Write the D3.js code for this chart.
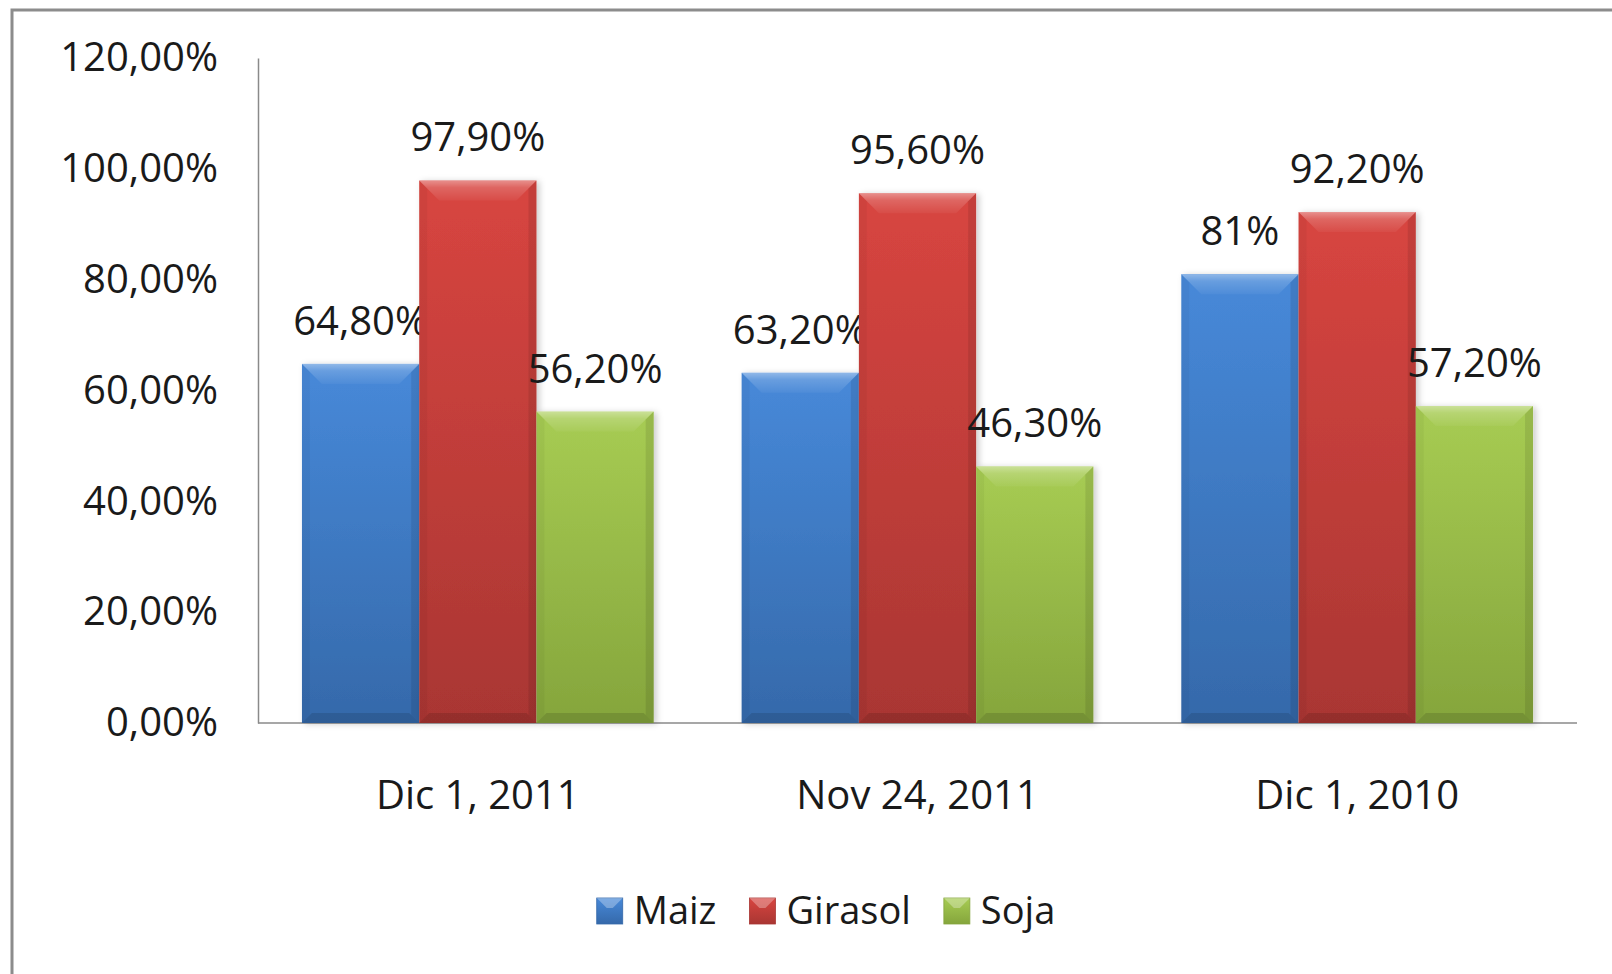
<!DOCTYPE html>
<html>
<head>
<meta charset="utf-8">
<script src="https://cdn.jsdelivr.net/npm/d3@7"></script>
<style>
  body { margin: 0; background: #fff; }
  text { font-family: "Open Sans", "Noto Sans", sans-serif; fill: #1a1a1a; }
</style>
</head>
<body>
<div id="container"></div>
<script>
const width = 1612;
const height = 974;

// data
const categories = ["Dic 1, 2011", "Nov 24, 2011", "Dic 1, 2010"];
const seriesNames = ["Maiz", "Girasol", "Soja"];
const maiz = [0.648, 0.632, 0.81];
const girasol = [0.979, 0.956, 0.922];
const soja = [0.562, 0.463, 0.572];
const labelTexts = [
  ["64,80%", "63,20%", "81%"],
  ["97,90%", "95,60%", "92,20%"],
  ["56,20%", "46,30%", "57,20%"],
];
const yTicks = [0, 0.2, 0.4, 0.6, 0.8, 1.0, 1.2];

const colours = [
  { top: "#4789d9", bottom: "#3569aa" },
  { top: "#d84540", bottom: "#a93633" },
  { top: "#a7cc53", bottom: "#85a53c" },
];

const plot = { left: 258, right: 1577, top: 58, bottom: 723 };

const svg = d3
  .select("#container")
  .append("svg")
  .attr("width", width)
  .attr("height", height);

const defs = svg.append("defs");

colours.forEach((c, i) => {
  const g = defs
    .append("linearGradient")
    .attr("id", "fill" + i)
    .attr("x1", 0).attr("y1", 0).attr("x2", 0).attr("y2", 1);
  g.append("stop").attr("offset", "0%").attr("stop-color", c.top);
  g.append("stop").attr("offset", "100%").attr("stop-color", c.bottom);
});

const topBevel = defs
  .append("linearGradient")
  .attr("id", "topBevel")
  .attr("x1", 0).attr("y1", 0).attr("x2", 0).attr("y2", 1);
topBevel.append("stop").attr("offset", "0%").attr("stop-color", "#fff").attr("stop-opacity", 0.4);
topBevel.append("stop").attr("offset", "35%").attr("stop-color", "#fff").attr("stop-opacity", 0.18);
topBevel.append("stop").attr("offset", "100%").attr("stop-color", "#fff").attr("stop-opacity", 0.04);

const shadow = defs.append("filter").attr("id", "shadow")
  .attr("x", "-10%").attr("y", "-10%").attr("width", "130%").attr("height", "120%");
shadow.append("feDropShadow")
  .attr("dx", 3).attr("dy", 1).attr("stdDeviation", 3)
  .attr("flood-color", "#000").attr("flood-opacity", 0.2);

// frame
svg.append("path")
  .attr("d", `M12,${height} L12,10 L${width},10`)
  .attr("fill", "none")
  .attr("stroke", "#8c8c8c")
  .attr("stroke-width", 3);

// scales
const x0 = d3.scaleBand().domain(categories).range([plot.left, plot.right]).paddingInner(0.2).paddingOuter(0.1);
const x1 = d3.scaleBand().domain(seriesNames).range([0, x0.bandwidth()]);
const y = d3.scaleLinear().domain([0, 1.2]).range([plot.bottom, plot.top]);

// y axis
const yAxis = d3.axisLeft(y)
  .tickValues(yTicks)
  .tickSize(0)
  .tickPadding(40)
  .tickFormat((d) => (d * 100).toFixed(2).replace(".", ",") + "%");

const yg = svg.append("g").attr("transform", `translate(${plot.left},0)`).call(yAxis);
yg.select(".domain").attr("stroke", "#8a8a8a").attr("stroke-width", 1.5);
yg.selectAll("text").style("font-size", "40px").attr("fill", "#1a1a1a").attr("font-family", null);

// x axis
const xAxis = d3.axisBottom(x0).tickSize(0).tickPadding(58);
const xg = svg.append("g").attr("transform", `translate(0,${plot.bottom})`).call(xAxis);
xg.select(".domain")
  .attr("d", `M${plot.left},0H${plot.right}`)
  .attr("stroke", "#8a8a8a").attr("stroke-width", 1.5);
xg.selectAll("text").style("font-size", "40px").attr("fill", "#1a1a1a").attr("font-family", null);

// bars
const series = [maiz, girasol, soja];
const rows = [];
series.forEach((vals, s) => {
  vals.forEach((v, c) => {
    rows.push({ s, c, v, label: labelTexts[s][c] });
  });
});

const bars = svg.append("g")
  .selectAll("g")
  .data(rows)
  .enter()
  .append("g")
  .attr("transform", (d) => `translate(${x0(categories[d.c]) + x1(seriesNames[d.s])},0)`);

const bw = x1.bandwidth();
const bev = 20;

bars.append("rect")
  .attr("x", 0)
  .attr("y", (d) => y(d.v))
  .attr("width", bw)
  .attr("height", (d) => y(0) - y(d.v))
  .attr("fill", (d) => `url(#fill${d.s})`)
  .attr("filter", "url(#shadow)");

// top bevel
bars.append("path")
  .attr("d", (d) => {
    const t = y(d.v);
    return `M0,${t}H${bw}L${bw - bev},${t + bev}H${bev}Z`;
  })
  .attr("fill", "url(#topBevel)");

// side and bottom bevels
bars.append("path")
  .attr("d", (d) => {
    const t = y(d.v), b = y(0);
    return `M0,${t}L${bev * 0.4},${t + bev * 0.4}V${b - bev * 0.4}L0,${b}Z`;
  })
  .attr("fill", "#000").attr("opacity", 0.04);
bars.append("path")
  .attr("d", (d) => {
    const t = y(d.v), b = y(0);
    return `M${bw},${t}L${bw - bev * 0.4},${t + bev * 0.4}V${b - bev * 0.4}L${bw},${b}Z`;
  })
  .attr("fill", "#000").attr("opacity", 0.09);
bars.append("path")
  .attr("d", (d) => {
    const b = y(0);
    return `M0,${b}L${bev * 0.5},${b - bev * 0.5}H${bw - bev * 0.5}L${bw},${b}Z`;
  })
  .attr("fill", "#000").attr("opacity", 0.12);

// data labels
bars.append("text")
  .attr("x", bw / 2)
  .attr("y", (d) => y(d.v) - 29)
  .attr("text-anchor", "middle")
  .style("font-size", "40px")
  .text((d) => d.label);

// legend
const legend = svg.append("g").attr("transform", "translate(0,911)");
const items = legend.selectAll("g").data(seriesNames).enter().append("g");
items.append("rect")
  .attr("x", 0).attr("y", -13)
  .attr("width", 26).attr("height", 26)
  .attr("fill", (d, i) => `url(#fill${i})`)
  .attr("stroke", (d, i) => colours[i].bottom)
  .attr("stroke-width", 0.8);
items.append("path")
  .attr("d", "M0,-13H26L16,-3H10Z")
  .attr("fill", "#fff").attr("opacity", 0.3);
items.append("text")
  .attr("x", 37)
  .attr("y", 13)
  .style("font-size", "38px")
  .text((d) => d);

let cx = 0;
const widths = [];
items.each(function () {
  const w = 37 + d3.select(this).select("text").node().getComputedTextLength();
  widths.push(w);
});
const gap = 33;
const total = d3.sum(widths) + gap * (widths.length - 1);
cx = 826 - total / 2;
items.attr("transform", (d, i) => {
  const tx = cx;
  cx += widths[i] + gap;
  return `translate(${tx},0)`;
});
</script>
</body>
</html>
